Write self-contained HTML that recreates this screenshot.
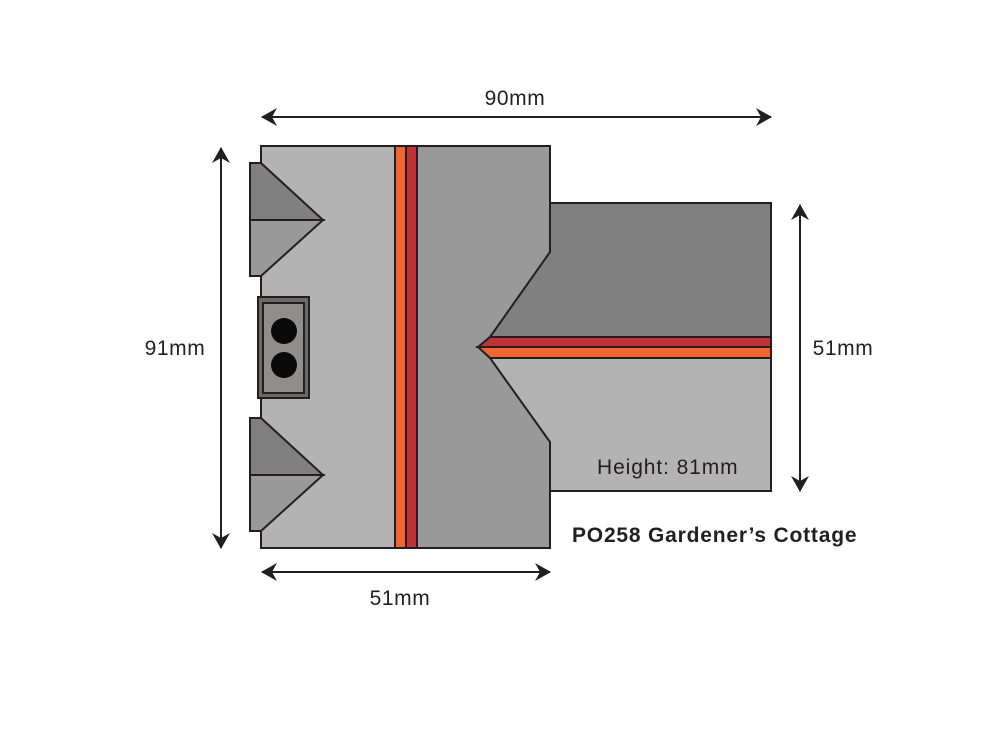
<!DOCTYPE html>
<html><head><meta charset="utf-8"><style>
html,body{margin:0;padding:0;background:#fff;}
svg{display:block;}
text{font-family:"Liberation Sans",sans-serif;fill:#231f20;}
</style></head><body>
<svg width="1005" height="742" viewBox="0 0 1005 742" xmlns="http://www.w3.org/2000/svg">
<defs>
<marker id="ah" viewBox="0 0 16 18" refX="15" refY="9" markerWidth="16" markerHeight="18" markerUnits="userSpaceOnUse" orient="auto-start-reverse">
<path d="M0,0 L16,9 L0,18 L5,9 Z" fill="#231f20"/>
</marker>
</defs>
<g stroke="#231f20" stroke-width="2" stroke-linejoin="miter">
<rect x="261" y="146" width="134" height="402" fill="#b3b3b3"/>
<rect x="417" y="146" width="133" height="402" fill="#9a9999"/>
<rect x="395" y="146" width="11" height="402" fill="#f26531"/>
<rect x="406" y="146" width="11" height="402" fill="#c1313a"/>
<polygon points="550,203 771,203 771,337 490,337 550,252" fill="#808080"/>
<polygon points="490,358 771,358 771,491 550,491 550,442" fill="#b3b3b3"/>
<polygon points="478,347 490,337 771,337 771,347" fill="#c1313a"/>
<polygon points="478,347 771,347 771,358 490,358" fill="#f26531"/>
<polygon points="250,163 261,163 323,220 250,220" fill="#808080"/>
<polygon points="250,220 323,220 261,276 250,276" fill="#9a9999"/>
<polygon points="250,418 261,418 323,475 250,475" fill="#808080"/>
<polygon points="250,475 323,475 261,531 250,531" fill="#9a9999"/>
<rect x="258" y="297" width="51" height="101" fill="#6b6b62"/>
<rect x="263" y="303" width="41" height="90" fill="#8f8e8a"/>
</g>
<circle cx="284" cy="331" r="13" fill="#0a0a0a"/>
<circle cx="284" cy="365" r="13" fill="#0a0a0a"/>
<g stroke="#231f20" stroke-width="2" fill="none">
<line x1="262" y1="117" x2="771" y2="117" marker-start="url(#ah)" marker-end="url(#ah)"/>
<line x1="221" y1="148" x2="221" y2="548" marker-start="url(#ah)" marker-end="url(#ah)"/>
<line x1="800" y1="205" x2="800" y2="491" marker-start="url(#ah)" marker-end="url(#ah)"/>
<line x1="262" y1="572" x2="550" y2="572" marker-start="url(#ah)" marker-end="url(#ah)"/>
</g>
<text x="515" y="105" font-size="21" letter-spacing="0.6" text-anchor="middle">90mm</text>
<text x="175" y="355" font-size="21" letter-spacing="0.6" text-anchor="middle">91mm</text>
<text x="843" y="355" font-size="21" letter-spacing="0.6" text-anchor="middle">51mm</text>
<text x="400" y="605" font-size="21" letter-spacing="0.6" text-anchor="middle">51mm</text>
<text x="597" y="474" font-size="21" letter-spacing="0.9">Height: 81mm</text>
<text x="572" y="542" font-size="21" font-weight="bold" letter-spacing="0.8">PO258 Gardener’s Cottage</text>
</svg>
</body></html>
